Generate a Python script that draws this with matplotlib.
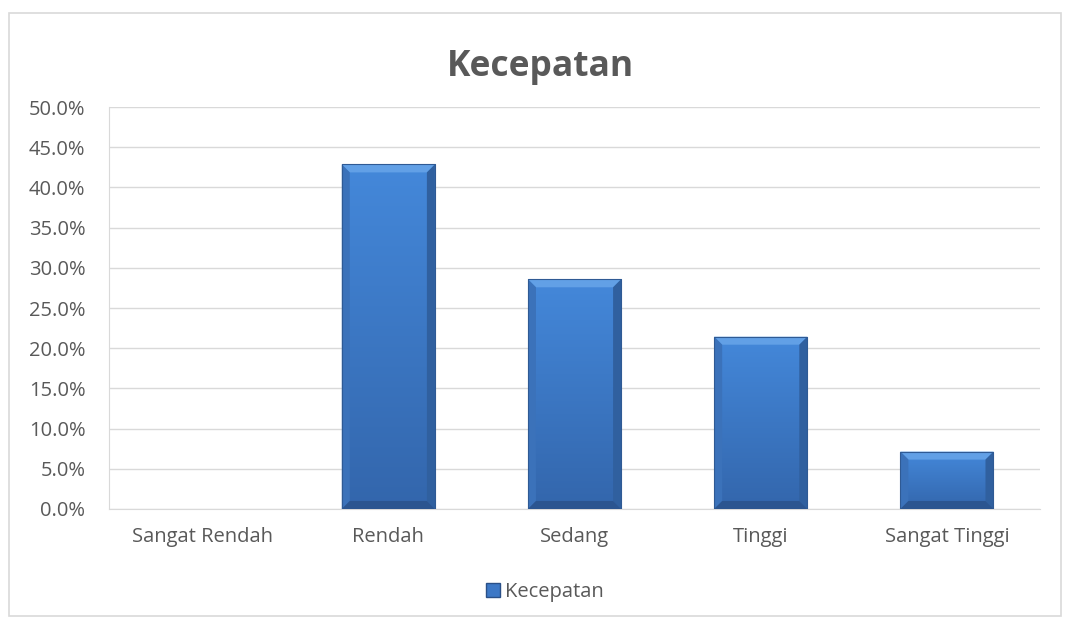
import numpy as np
import matplotlib.pyplot as plt
from matplotlib.patches import Polygon, Rectangle
from matplotlib.ticker import PercentFormatter

categories = ['Sangat Rendah', 'Rendah', 'Sedang', 'Tinggi', 'Sangat Tinggi']
values = [0.0, 42.86, 28.57, 21.43, 7.14]
series_name = 'Kecepatan'

plt.rcParams['font.family'] = ['Open Sans', 'DejaVu Sans']

fig = plt.figure(figsize=(10.7, 6.24), dpi=100)
ax = fig.add_axes([0.1019, 0.1843, 0.8701, 0.6442])

# chart border
fig.patches.append(Rectangle((9 / 1070, 1 - 616 / 624), 1052 / 1070, 603 / 624,
                             transform=fig.transFigure, fill=False,
                             edgecolor='#d9d9d9', linewidth=1.2))

x = np.arange(len(categories))
bars = ax.bar(x, values, width=0.5, color='#3d78c6', zorder=2, label=series_name)

ax.set_xlim(-0.5, len(categories) - 0.5)
ax.set_ylim(0, 50)
ax.set_yticks(np.arange(0, 50.1, 5))
ax.yaxis.set_major_formatter(PercentFormatter(decimals=1))
ax.set_xticks(x)
ax.set_xticklabels(categories)
ax.grid(axis='y', color='#d9d9d9', linewidth=1, zorder=0)
ax.set_axisbelow(True)
for s in ['top', 'right']:
    ax.spines[s].set_visible(False)
for s in ['left', 'bottom']:
    ax.spines[s].set_color('#d9d9d9')
ax.tick_params(length=0, labelsize=14.5, labelcolor='#595959')
ax.tick_params(axis='y', pad=17)
ax.tick_params(axis='x', pad=13)

# gradient + bevel look for each bar
fig.canvas.draw()
bbox = ax.get_window_extent()
px_x = bbox.width / (len(categories))
px_y = bbox.height / 50.0
bev = 8
dx = bev / px_x
dy = bev / px_y
grad = np.zeros((100, 1, 3))
top_c = np.array([0x44, 0x88, 0xda]) / 255
bot_c = np.array([0x33, 0x66, 0xac]) / 255
for i in range(100):
    t = i / 99
    grad[i, 0] = top_c * (1 - t) + bot_c * t
for b in bars:
    h = b.get_height()
    if h <= 0:
        b.set_visible(False)
        continue
    x0, w = b.get_x(), b.get_width()
    x1 = x0 + w
    im = ax.imshow(grad, extent=(x0, x1, 0, h), aspect='auto', zorder=2.5,
                   interpolation='bilinear')
    im.set_clip_path(b)
    ddy = min(dy, h / 3)
    ax.add_patch(Polygon([(x0, h), (x1, h), (x1 - dx, h - ddy), (x0 + dx, h - ddy)],
                         closed=True, facecolor='#62a0e6', edgecolor='none', zorder=3))
    ax.add_patch(Polygon([(x0, 0), (x0, h), (x0 + dx, h - ddy), (x0 + dx, ddy)],
                         closed=True, facecolor='#3b72ba', edgecolor='none', zorder=3))
    ax.add_patch(Polygon([(x1, 0), (x1, h), (x1 - dx, h - ddy), (x1 - dx, ddy)],
                         closed=True, facecolor='#30609f', edgecolor='none', zorder=3))
    ax.add_patch(Polygon([(x0, 0), (x1, 0), (x1 - dx, ddy), (x0 + dx, ddy)],
                         closed=True, facecolor='#2b5590', edgecolor='none', zorder=3))
    ax.add_patch(Rectangle((x0, 0), w, h, fill=False, edgecolor='#2f5a94',
                           linewidth=0.8, zorder=3.5))

fig.text(0.5047, 0.893, 'Kecepatan', ha='center', va='center', fontsize=25.5,
         fontweight='bold', color='#595959')

leg = fig.legend(handles=[bars], labels=[series_name], loc='center',
                 bbox_to_anchor=(0.509, 1 - 592 / 624), frameon=False,
                 fontsize=14.5, handlelength=0.7, handleheight=0.7, handletextpad=0.25)
for t in leg.get_texts():
    t.set_color('#595959')
leg.legend_handles[0].set_visible(True)
leg.legend_handles[0].set_facecolor('#3d78c6')
leg.legend_handles[0].set_edgecolor('#2a5088')

fig.savefig('out.png', dpi=100)
